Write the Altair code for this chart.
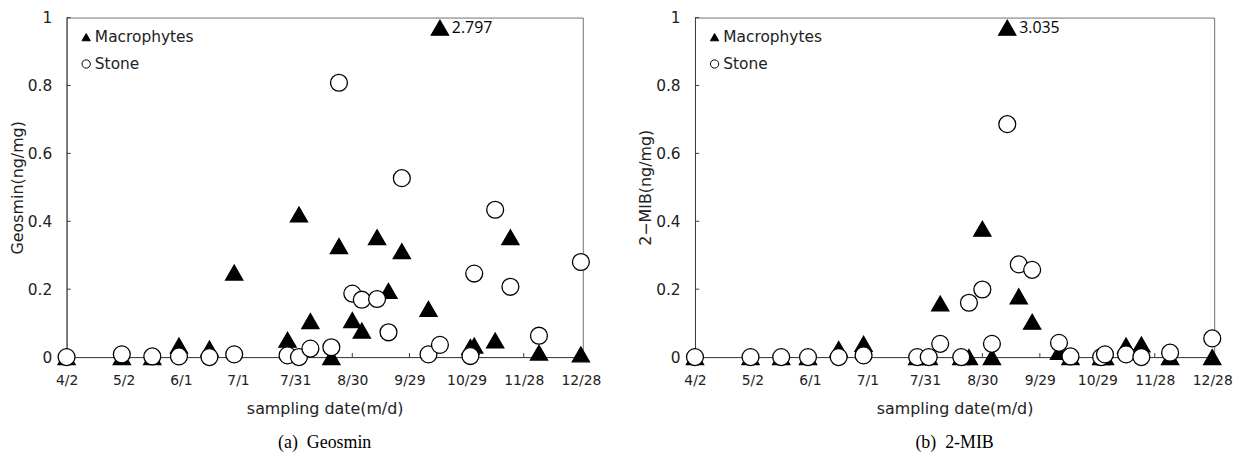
import altair as alt
import pandas as pd

# x axis: days after 4/2, ticks every 30 days
TICK_DAYS = [0, 30, 60, 90, 120, 150, 180, 210, 240, 270]
TICK_LABELS = ["4/2", "5/2", "6/1", "7/1", "7/31", "8/30", "9/29", "10/29", "11/28", "12/28"]
Y_TICKS = [0, 0.2, 0.4, 0.6, 0.8, 1]

# sampling dates (days after 4/2)
DAYS = [0, 29, 45, 59, 75, 88, 116, 122, 128, 139, 143, 150,
        155, 163, 169, 176, 190, 196, 212, 214, 225, 233, 248, 270]
SERIES = ["Macrophytes", "Stone"]

GEOSMIN_MACRO = [0, 0, 0, 0.034, 0.025, 0.249, 0.051, 0.42, 0.106, 0, 0.327, 0.109,
                 0.078, 0.353, 0.195, 0.312, 0.142, 2.797, 0.030, 0.034, 0.049, 0.353, 0.013, 0.008]
GEOSMIN_STONE = [0, 0.008, 0.002, 0.002, 0.0, 0.008, 0.005, 0.0, 0.025, 0.029, 0.808, 0.187,
                 0.169, 0.171, 0.073, 0.527, 0.008, 0.036, 0.003, 0.246, 0.434, 0.207, 0.063, 0.28]
MIB_MACRO = [0, 0, 0, 0, 0.024, 0.039, 0, 0, 0.158, 0, 0, 0.378,
             0, 3.035, 0.179, 0.104, 0.015, 0, 0, 0, 0.034, 0.037, 0, 0]
MIB_STONE = [0, 0, 0, 0, 0, 0.005, 0, 0, 0.039, 0, 0.16, 0.199,
             0.039, 0.686, 0.273, 0.257, 0.042, 0.002, 0, 0.008, 0.008, 0, 0.013, 0.055]

Y_CAP = 0.97  # off-scale values are drawn here, with their value written beside

FONT = "DejaVu Sans"
AXIS_COLOR = "#404040"

label_expr = "[" + ",".join("'%s'" % l for l in TICK_LABELS) + "][round(datum.value/30)]"


def panel_df(macro, stone):
    rows = []
    for name, vals in (("Macrophytes", macro), ("Stone", stone)):
        for d, v in zip(DAYS, vals):
            rows.append({"day": d, "series": name, "value": v})
    return pd.DataFrame(rows)


def panel(macro, stone, ytitle, caption, width):
    df = panel_df(macro, stone)
    xscale = alt.Scale(domain=[0, 271], nice=False, zero=False)
    yscale = alt.Scale(domain=[0, 1], nice=False)
    x = alt.X("day:Q", scale=xscale,
              axis=alt.Axis(values=TICK_DAYS, labelExpr=label_expr, title="sampling date(m/d)",
                            ticks=False, grid=False, labelPadding=17, labelFontSize=14,
                            labelFlush=False, titlePadding=13))
    y = alt.Y("plot_value:Q", scale=yscale,
              axis=alt.Axis(values=Y_TICKS, format="~g", title=ytitle, ticks=False, grid=False,
                            labelPadding=15, labelFontSize=15.5, labelFlush=False, titlePadding=2))

    base = alt.Chart(df).transform_calculate(
        plot_value="min(datum.value, %s)" % Y_CAP)

    legend = alt.Legend(title=None, orient="none", legendX=12, legendY=12,
                        labelFont=FONT, labelFontSize=15.5, labelColor="#222",
                        symbolSize=70, symbolStrokeWidth=1, rowPadding=10, labelOffset=1)
    points = base.mark_point(filled=True, opacity=1, strokeWidth=1.3).encode(
        x=x, y=y,
        shape=alt.Shape("series:N", scale=alt.Scale(domain=SERIES, range=["triangle-up", "circle"]),
                        legend=legend),
        fill=alt.Fill("series:N", scale=alt.Scale(domain=SERIES, range=["black", "white"]),
                      legend=legend),
        stroke=alt.value("black"),
        size=alt.Size("series:N", scale=alt.Scale(domain=SERIES, range=[300, 290]), legend=None),
    )

    ann = base.transform_filter("datum.value > 1").mark_text(
        align="left", baseline="middle", dx=12, font="Open Sans", fontSize=16, color="black"
    ).encode(x=alt.X("day:Q", scale=xscale), y=alt.Y("plot_value:Q", scale=yscale),
             text=alt.Text("value:Q", format=".3f"))

    xt = alt.Chart(pd.DataFrame({"day": TICK_DAYS})).mark_rule(color=AXIS_COLOR, strokeWidth=1).encode(
        x=alt.X("day:Q", scale=xscale), y=alt.datum(0), y2=alt.datum(0.012))
    yt = alt.Chart(pd.DataFrame({"v": Y_TICKS})).mark_rule(color=AXIS_COLOR, strokeWidth=1).encode(
        y=alt.Y("v:Q", scale=yscale), x=alt.datum(0), x2=alt.datum(2.2))

    return alt.layer(xt, yt, points, ann).properties(
        width=width, height=342,
        title=alt.TitleParams(text=caption, orient="bottom", font="Liberation Serif", fontSize=18,
                              fontWeight="normal", color="black", offset=18, anchor="middle"),
    )


left = panel(GEOSMIN_MACRO, GEOSMIN_STONE, "Geosmin(ng/mg)", "(a)\u00a0 Geosmin", 520)
right = panel(MIB_MACRO, MIB_STONE, "2\u2212MIB(ng/mg)", "(b)\u00a0 2-MIB", 523)

chart = alt.hconcat(left, right, spacing=35).resolve_legend(
    shape="independent", fill="independent"
).properties(
    padding={"left": 0, "top": 0, "right": 5, "bottom": 0}
).configure_view(
    stroke="#707070", strokeWidth=1
).configure_axis(
    labelFont=FONT, titleFont=FONT, titleFontSize=16, titleFontWeight="normal",
    labelColor="#222", titleColor="#222", domainColor=AXIS_COLOR, domainWidth=1
)

chart.save("out.html", embed_options={"renderer": "svg", "actions": False})
